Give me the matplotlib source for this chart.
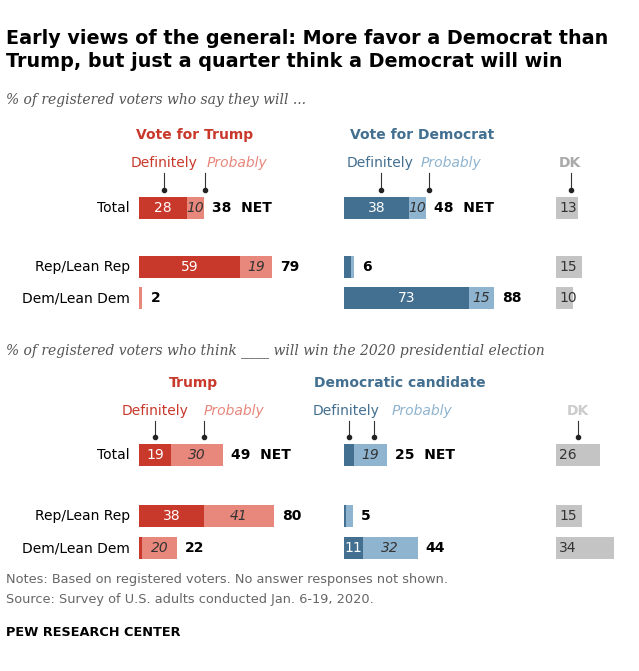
import matplotlib.pyplot as plt

# ---- data ----
groups = ['Total', 'Rep/Lean Rep', 'Dem/Lean Dem']
vote_trump_def = [28, 59, 0]
vote_trump_prob = [10, 19, 2]
vote_trump_net = [38, 79, 2]
vote_dem_def = [38, 4, 73]
vote_dem_prob = [10, 2, 15]
vote_dem_net = [48, 6, 88]
vote_dk = [13, 15, 10]

win_trump_def = [19, 38, 2]
win_trump_prob = [30, 41, 20]
win_trump_net = [49, 80, 22]
win_dem_def = [6, 1, 11]
win_dem_prob = [19, 4, 32]
win_dem_net = [25, 5, 44]
win_dk = [26, 15, 34]

RED, LRED = '#c8392b', '#e8877c'
BLUE, LBLUE = '#436f90', '#8fb4d0'
GRAY = '#c4c4c4'
SCALE = 1.71
X_T, X_D, X_K = 139, 344, 556
H = 22
FS = 10

fig = plt.figure(figsize=(6.39, 6.71), dpi=100)
ax = fig.add_axes([0, 0, 1, 1])
ax.set_xlim(0, 639)
ax.set_ylim(671, 0)
ax.axis('off')


def section(ys, tdef, tprob, tnet, ddef, dprob, dnet, dk):
    for i, y in enumerate(ys):
        # trump
        w1, w2 = tdef[i] * SCALE, tprob[i] * SCALE
        ax.barh(y, w1, left=X_T, height=H, color=RED)
        ax.barh(y, w2, left=X_T + w1, height=H, color=LRED)
        if tdef[i] >= 8:
            ax.text(X_T + w1 / 2, y, str(tdef[i]), color='white', ha='center', va='center', fontsize=FS)
        if tprob[i] >= 8:
            ax.text(X_T + w1 + w2 / 2, y, str(tprob[i]), color='#333333', ha='center', va='center',
                    fontsize=FS, style='italic')
        net = str(tnet[i]) + ('  NET' if i == 0 else '')
        ax.text(X_T + w1 + w2 + 8, y, net, ha='left', va='center', fontsize=FS, fontweight='bold')
        # democrat
        w1, w2 = ddef[i] * SCALE, dprob[i] * SCALE
        ax.barh(y, w1, left=X_D, height=H, color=BLUE)
        ax.barh(y, w2, left=X_D + w1, height=H, color=LBLUE)
        if ddef[i] >= 8:
            ax.text(X_D + w1 / 2, y, str(ddef[i]), color='white', ha='center', va='center', fontsize=FS)
        if dprob[i] >= 8:
            ax.text(X_D + w1 + w2 / 2, y, str(dprob[i]), color='#333333', ha='center', va='center',
                    fontsize=FS, style='italic')
        net = str(dnet[i]) + ('  NET' if i == 0 else '')
        ax.text(X_D + w1 + w2 + 8, y, net, ha='left', va='center', fontsize=FS, fontweight='bold')
        # dk
        ax.barh(y, dk[i] * SCALE, left=X_K, height=H, color=GRAY)
        ax.text(X_K + 12, y, str(dk[i]), ha='center', va='center', fontsize=FS, color='#333333')
        # labels
        ax.text(130, y, groups[i], ha='right', va='center', fontsize=FS)


def callout(x, ytop, ybar):
    ax.plot([x, x], [ytop, ybar], color='#333333', lw=0.8)
    ax.plot(x, ybar, 'o', color='#222222', ms=3)


title = ('Early views of the general: More favor a Democrat than\n'
         'Trump, but just a quarter think a Democrat will win')
ax.text(6, 50, title, fontsize=13.8, fontweight='bold', va='center', ha='left', linespacing=1.25)
ax.text(6, 100, '% of registered voters who say they will ...', fontsize=10, style='italic',
        color='#555555', va='center', family='DejaVu Serif')

ys1 = [208, 267, 298]
section(ys1, vote_trump_def, vote_trump_prob, vote_trump_net, vote_dem_def, vote_dem_prob,
        vote_dem_net, vote_dk)
ax.text(195, 135, 'Vote for Trump', color=RED, fontweight='bold', fontsize=FS, ha='center', va='center')
ax.text(422, 135, 'Vote for Democrat', color=BLUE, fontweight='bold', fontsize=FS, ha='center', va='center')
ax.text(570, 163, 'DK', color='#aaaaaa', fontweight='bold', fontsize=FS, ha='center', va='center')
ax.text(164, 163, 'Definitely', color=RED, fontsize=FS, ha='center', va='center')
ax.text(207, 163, 'Probably', color=LRED, fontsize=FS, ha='left', va='center', style='italic')
ax.text(380, 163, 'Definitely', color=BLUE, fontsize=FS, ha='center', va='center')
ax.text(421, 163, 'Probably', color=LBLUE, fontsize=FS, ha='left', va='center', style='italic')
for x in (164, 205, 381, 429, 571):
    callout(x, 173, 190)

ax.text(6, 351, '% of registered voters who think ____ will win the 2020 presidential election',
        fontsize=10, style='italic', color='#555555', va='center', family='DejaVu Serif')

ys2 = [455, 516, 548]
section(ys2, win_trump_def, win_trump_prob, win_trump_net, win_dem_def, win_dem_prob,
        win_dem_net, win_dk)
ax.text(193, 383, 'Trump', color=RED, fontweight='bold', fontsize=FS, ha='center', va='center')
ax.text(400, 383, 'Democratic candidate', color=BLUE, fontweight='bold', fontsize=FS, ha='center', va='center')
ax.text(578, 411, 'DK', color='#cccccc', fontweight='bold', fontsize=FS, ha='center', va='center')
ax.text(155, 411, 'Definitely', color=RED, fontsize=FS, ha='center', va='center')
ax.text(204, 411, 'Probably', color=LRED, fontsize=FS, ha='left', va='center', style='italic')
ax.text(346, 411, 'Definitely', color=BLUE, fontsize=FS, ha='center', va='center')
ax.text(392, 411, 'Probably', color=LBLUE, fontsize=FS, ha='left', va='center', style='italic')
for x in (155, 204, 349, 374, 578):
    callout(x, 421, 437)

ax.text(6, 580, 'Notes: Based on registered voters. No answer responses not shown.',
        fontsize=9.3, color='#666666', va='center')
ax.text(6, 599, 'Source: Survey of U.S. adults conducted Jan. 6-19, 2020.',
        fontsize=9.3, color='#666666', va='center')
ax.text(6, 632, 'PEW RESEARCH CENTER', fontsize=9.3, fontweight='bold', va='center')

fig.savefig('out.png', dpi=100)
